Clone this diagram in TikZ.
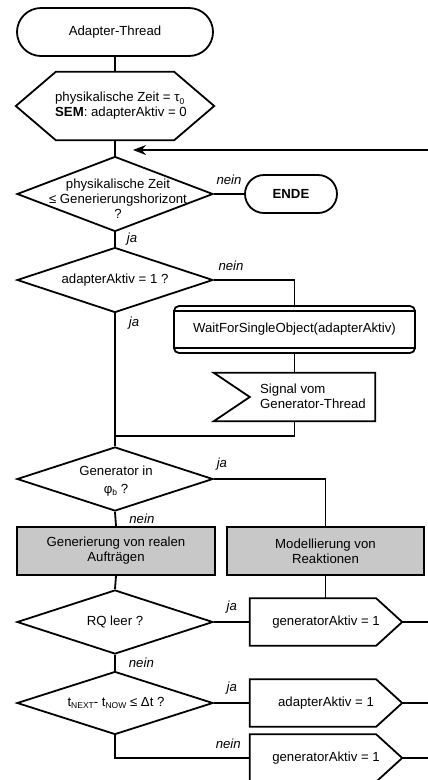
\documentclass[tikz,border=0pt]{standalone}
\usepackage{fontspec}
\setmainfont{Liberation Sans}
\usetikzlibrary{shapes.geometric,arrows.meta,positioning}

\definecolor{boxgray}{RGB}{200,200,200}
% small lowered index, e.g. t_NEXT
\newcommand\low[1]{\raisebox{-0.3ex}{\fontsize{8.5}{8.5}\selectfont #1}}

\tikzset{
  wire/.style={line width=1.8pt},
  term/.style={draw, wire, minimum width=196pt, minimum height=48pt, rounded corners=24pt},
  decision/.style={diamond, draw, wire, inner sep=0pt, minimum width=196pt, minimum height=64pt},
  proc/.style={draw, wire, fill=boxgray, minimum width=198pt, minimum height=48pt, align=center},
  outbox/.style={minimum width=152pt, minimum height=47pt, inner sep=0pt},
  lbl/.style={font=\itshape, inner sep=1pt},
}

\begin{document}
\begin{tikzpicture}[x=1pt, y=-1pt]
  \fontsize{13.2}{15}\selectfont
  \useasboundingbox (0,0) rectangle (428,780);
  \clip (0,0) rectangle (428,780);
  \coordinate (right) at (428,0);

  % start, initialisation
  \node[term] (start) at (115,32) {Adapter-Thread};
  \node[minimum width=118pt, minimum height=68pt, inner sep=0pt] (init) at (115,106) {};
  \draw[wire] (init.north west) -- (init.north east) -- ([xshift=40pt]init.east)
    -- (init.south east) -- (init.south west) -- ([xshift=-40pt]init.west) -- cycle;
  \node[align=left] (initt) at (121,106) {physikalische Zeit = τ\low{0}\\\textbf{SEM}: adapterAktiv = 0};

  % main loop
  \coordinate (merge) at (115,150);
  \node[decision, minimum height=75pt] (q1) at (115,194) {};
  \node[align=center] (q1t) at (118,199) {physikalische Zeit\\≤ Generierungshorizont\\?};
  \node[term, minimum width=92pt, minimum height=38pt, rounded corners=19pt, font=\bfseries] (ende) at (291,194) {ENDE};

  \node[decision, minimum height=65pt] (q2) at (115,280) {};
  \node (q2t) at (q2) {adapterAktiv = 1 ?};

  \node[draw, wire, rounded corners=5pt, minimum width=241pt, minimum height=47pt] (wait) at (294.5,329.5) {WaitForSingleObject(adapterAktiv)};
  \draw[wire] ([yshift=-6pt]wait.north west) -- ([yshift=-6pt]wait.north east);
  \draw[wire] ([yshift=6pt]wait.south west) -- ([yshift=6pt]wait.south east);

  \node[minimum width=161pt, minimum height=48pt, inner sep=0pt] (sig) at (294.5,397) {};
  \draw[wire] (sig.north west) -- (sig.north east) -- (sig.south east) -- (sig.south west)
    -- ([xshift=36pt]sig.west) -- cycle;
  \node[align=left] (sigt) at (313,396) {Signal vom\\Generator-Thread};
  \coordinate (j2) at (115,436);

  \node[decision] (q3) at (115,479) {};
  \node[align=center] (q3t) at (116,481) {Generator in\\[3pt]φ\low{b} ?};

  \node[proc] (gen) at (116,551) {Generierung von realen\\Aufträgen};
  \node[proc, minimum width=197pt] (react) at (325.5,551) {Modellierung von\\Reaktionen};

  \node[decision] (q4) at (115,622) {};
  \node (q4t) at (q4) {RQ leer ?};
  \node[decision, minimum height=63pt] (q5) at (115,703) {};
  \node (q5t) at (116,703) {t\low{NEXT}- t\low{NOW} ≤ Δt ?};

  % flag outputs
  \node[outbox] (ga1) at (326,622) {generatorAktiv = 1};
  \node[outbox] (aa) at (326,703) {adapterAktiv = 1};
  \node[outbox] (ga2) at (326,758) {generatorAktiv = 1};
  \foreach \b in {ga1,aa,ga2}{
    \draw[wire] (\b.north west) -- ([xshift=-26pt]\b.north east) -- (\b.east)
      -- ([xshift=-26pt]\b.south east) -- (\b.south west) -- cycle;
    \draw[wire] (\b.east) -- (\b.east -| right);
  }

  % connectors
  \draw[wire] (start) -- (init);
  \draw[wire] (init.south) -- (q1.north);
  \draw[wire, -{Stealth[length=13pt,width=10pt]}] (merge -| right) -- ([xshift=18pt]merge);
  \draw[wire] (q1.east) -- node[lbl, above=7pt] {nein} (ende.west);
  \draw[wire] (q1.south) -- node[lbl, right=10pt] {ja} (q2.north);
  \draw[wire] (q2.east) -| node[lbl, pos=0.106, above=7pt] {nein} (wait.north);
  \draw[wire] (wait.south) -- (sig.north);
  \draw[wire] (sig.south) |- (j2);
  \draw[wire] (q2.south) -- node[lbl, pos=0.07, right=12pt] {ja} (q3.north);
  \draw[wire] (q3.east) -| node[lbl, pos=0.036, above=7pt] {ja} (react.north);
  \draw[wire] (q3.south) -- node[lbl, right=12pt] {nein} (gen.north);
  \draw[wire] (gen.south) -- (q4.north);
  \draw[wire] (react.south) -- (react.south |- ga1.north);
  \draw[wire] (q4.east) -- node[lbl, above=7pt] {ja} (ga1.west);
  \draw[wire] (q4.south) -- node[lbl, right=12pt] {nein} (q5.north);
  \draw[wire] (q5.east) -- node[lbl, above=7pt] {ja} (aa.west);
  \draw[wire] (q5.south) |- node[lbl, pos=0.92, above=7pt] {nein} (ga2.west);
\end{tikzpicture}
\end{document}
